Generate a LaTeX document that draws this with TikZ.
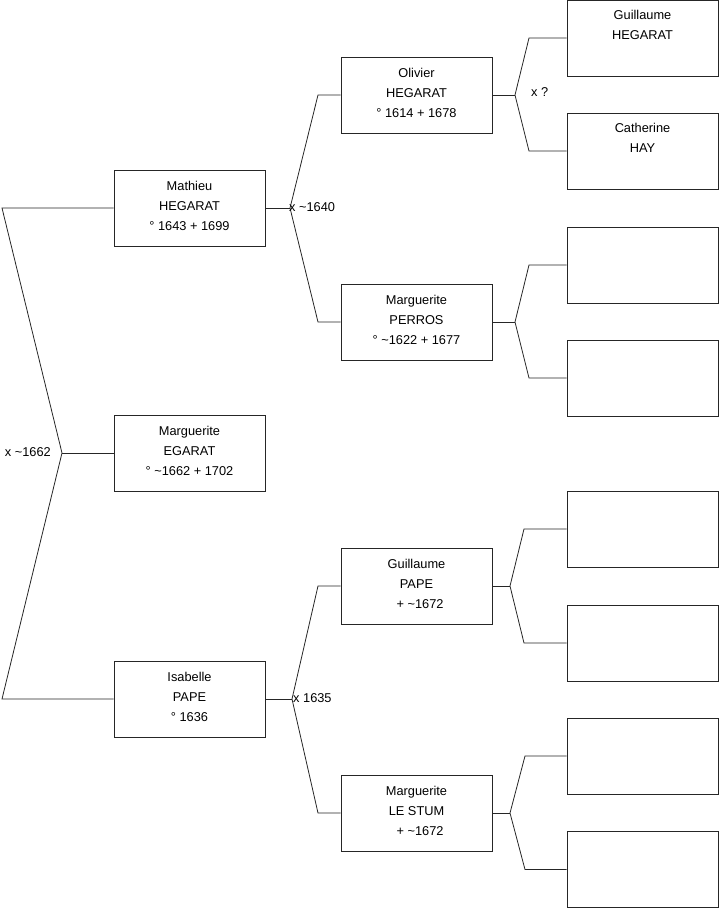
\documentclass[tikz,border=0pt]{standalone}
\usepackage{fontspec}
\setmainfont{Liberation Sans}
\begin{document}
\begin{tikzpicture}[x=1pt,y=-1pt,
  person/.style={draw=black!85,line width=0.8pt,minimum width=151pt,minimum height=76pt,inner sep=0pt,align=center,font=\fontsize{12.8}{20}\selectfont,execute at end node={\rule[-4pt]{0pt}{4pt}}},
  link/.style={draw=black!85,line width=0.8pt},
  lbl/.style={inner sep=0pt,font=\fontsize{12.8}{14}\selectfont}]
\useasboundingbox (0,0) rectangle (719,908);
% level 1
\node[person] (m1) at (189.5,208) {Mathieu\\HEGARAT\\° 1643 + 1699};
\node[person] (e1) at (189.5,453) {Marguerite\\EGARAT\\° \textasciitilde1662 + 1702};
\node[person] (i1) at (189.5,699) {Isabelle\\PAPE\\° 1636};
% level 2
\node[person] (o2) at (416.5,95) {Olivier\\HEGARAT\\° 1614 + 1678};
\node[person] (p2) at (416.5,322) {Marguerite\\PERROS\\° \textasciitilde1622 + 1677};
\node[person] (g2) at (416.5,586) {Guillaume\\PAPE\\\ \ + \textasciitilde1672};
\node[person] (l2) at (416.5,813) {Marguerite\\LE STUM\\\ \ + \textasciitilde1672};
% level 3
\node[person] (a3) at (642.5,38) {Guillaume\\HEGARAT\\\strut};
\node[person] (b3) at (642.5,151) {Catherine\\HAY\\\strut};
\node[person] (c3) at (642.5,265) {};
\node[person] (d3) at (642.5,378) {};
\node[person] (e3) at (642.5,529) {};
\node[person] (f3) at (642.5,643) {};
\node[person] (g3) at (642.5,756) {};
\node[person] (h3) at (642.5,869.5) {};
% fork points
\coordinate (f0) at (62,453);
\coordinate (f0a) at (2,208);
\coordinate (f0b) at (2,699);
\coordinate (f1) at (290,208);
\coordinate (f1a) at (318,95);
\coordinate (f1b) at (318,322);
\coordinate (f2) at (292,699);
\coordinate (f2a) at (318,586);
\coordinate (f2b) at (318,813);
\coordinate (fo) at (515,95);
\coordinate (foa) at (529,38);
\coordinate (fob) at (529,151);
\coordinate (fp) at (515,322);
\coordinate (fpa) at (529,265);
\coordinate (fpb) at (529,378);
\coordinate (fg) at (510,586);
\coordinate (fga) at (524,529);
\coordinate (fgb) at (524,643);
\coordinate (fl) at (510,813);
\coordinate (fla) at (525,756);
\coordinate (flb) at (525,869.5);
% connectors
\draw[link] (e1.west) -- (f0);
\draw[link] (m1.west) -- (f0a) -- (f0) -- (f0b) -- (i1.west);
\draw[link] (m1.east) -- (f1);
\draw[link] (o2.west) -- (f1a) -- (f1) -- (f1b) -- (p2.west);
\draw[link] (i1.east) -- (f2);
\draw[link] (g2.west) -- (f2a) -- (f2) -- (f2b) -- (l2.west);
\draw[link] (o2.east) -- (fo);
\draw[link] (a3.west) -- (foa) -- (fo) -- (fob) -- (b3.west);
\draw[link] (p2.east) -- (fp);
\draw[link] (c3.west) -- (fpa) -- (fp) -- (fpb) -- (d3.west);
\draw[link] (g2.east) -- (fg);
\draw[link] (e3.west) -- (fga) -- (fg) -- (fgb) -- (f3.west);
\draw[link] (l2.east) -- (fl);
\draw[link] (g3.west) -- (fla) -- (fl) -- (flb) -- (h3.west);
% marriage labels
\node[lbl,anchor=east] (t0) at (51,452) {x \textasciitilde1662};
\node[lbl,anchor=west] (t1) at (289,207) {x \textasciitilde1640};
\node[lbl,anchor=west] (t2) at (531,92) {x ?};
\node[lbl,anchor=west] (t3) at (293,698) {x 1635};
\end{tikzpicture}
\end{document}
